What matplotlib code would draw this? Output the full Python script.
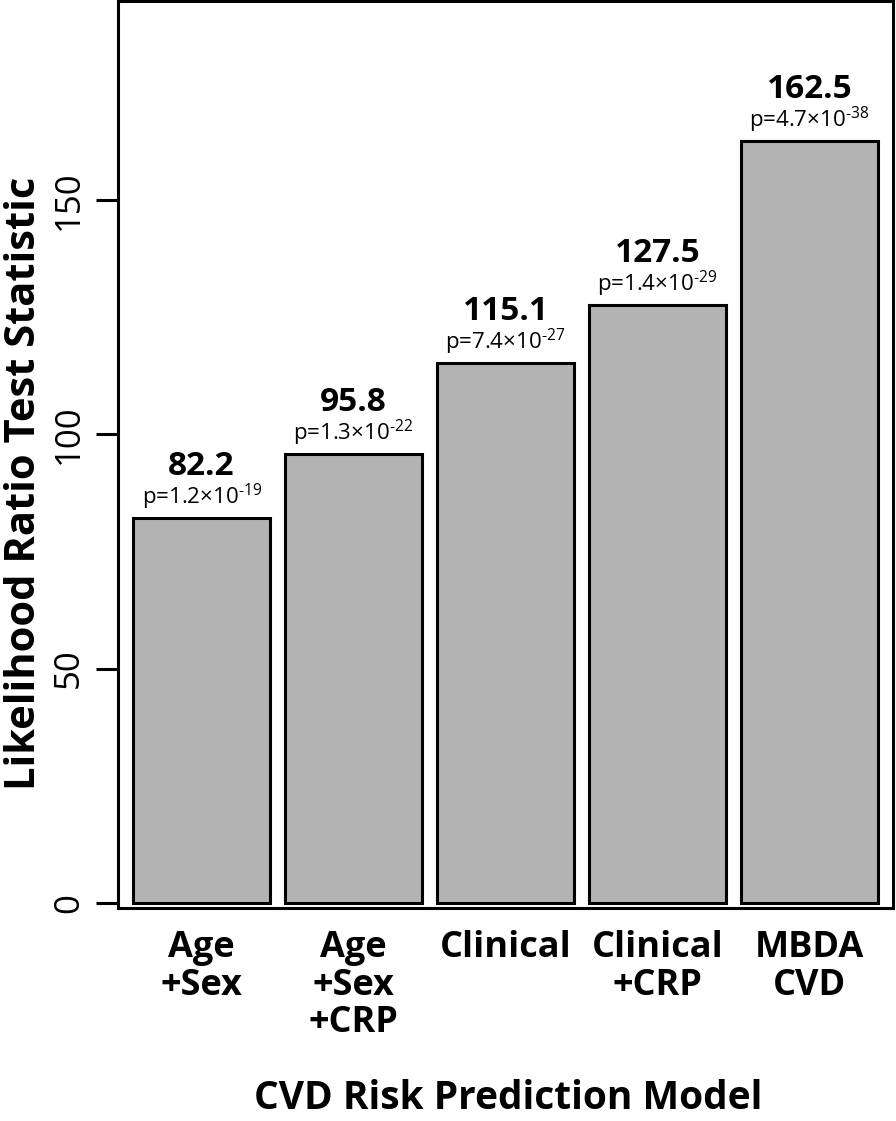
import numpy as np
import matplotlib
matplotlib.use('Agg')
import matplotlib.pyplot as plt

plt.rcParams['font.family'] = ['Open Sans', 'DejaVu Sans']
plt.rcParams['mathtext.fontset'] = 'custom'
plt.rcParams['mathtext.rm'] = 'Open Sans'
plt.rcParams['mathtext.it'] = 'Open Sans'
plt.rcParams['mathtext.bf'] = 'Open Sans:bold'

# data
models = ['Age\n+Sex', 'Age\n+Sex\n+CRP', 'Clinical', 'Clinical\n+CRP', 'MBDA\nCVD']
lr_stat = [82.2, 95.8, 115.1, 127.5, 162.5]
p_mant = ['1.2', '1.3', '7.4', '1.4', '4.7']
p_exp = ['19', '22', '27', '29', '38']
yticks = [0, 50, 100, 150]

fig = plt.figure(figsize=(8.96, 11.21), dpi=100)
ax = fig.add_axes([118/896, 1 - 908/1121, 775/896, 907/1121])

x = np.arange(len(models))
ax.bar(x, lr_stat, width=0.9, color='#b3b3b3', edgecolor='black', linewidth=2.2)

for xi, v, m, e in zip(x, lr_stat, p_mant, p_exp):
    ax.annotate(f'{v:.1f}', (xi, v), xytext=(0, 31), textcoords='offset points',
                ha='center', va='baseline', fontsize=24, fontweight='bold')
    ax.annotate(f'p={m}×10$^{{\u2010{e}}}$', (xi, v), xytext=(0, 10), textcoords='offset points',
                ha='center', va='baseline', fontsize=16)

ax.set_xlim(-0.55, 4.55)
ax.set_ylim(-1.07, 192.4)
ax.set_xticks(x)
ax.set_xticklabels(models, fontsize=26, fontweight='bold', linespacing=1.05, va='top')
ax.tick_params(axis='x', length=0, pad=16)
ax.set_yticks(yticks)
ax.set_yticklabels([str(t) for t in yticks], fontsize=25, rotation=90, va='center')
ax.tick_params(axis='y', length=16, width=2.2, pad=7)

for s in ax.spines.values():
    s.set_linewidth(2.2)

fig.text(35/896, 1 - 483/1121, 'Likelihood Ratio Test Statistic', rotation=90,
         rotation_mode='anchor', ha='center', va='baseline', fontsize=30, fontweight='bold')
fig.text(508/896, 1 - 1109/1121, 'CVD Risk Prediction Model',
         ha='center', va='baseline', fontsize=28, fontweight='bold')

fig.savefig('out.png', dpi=100)
